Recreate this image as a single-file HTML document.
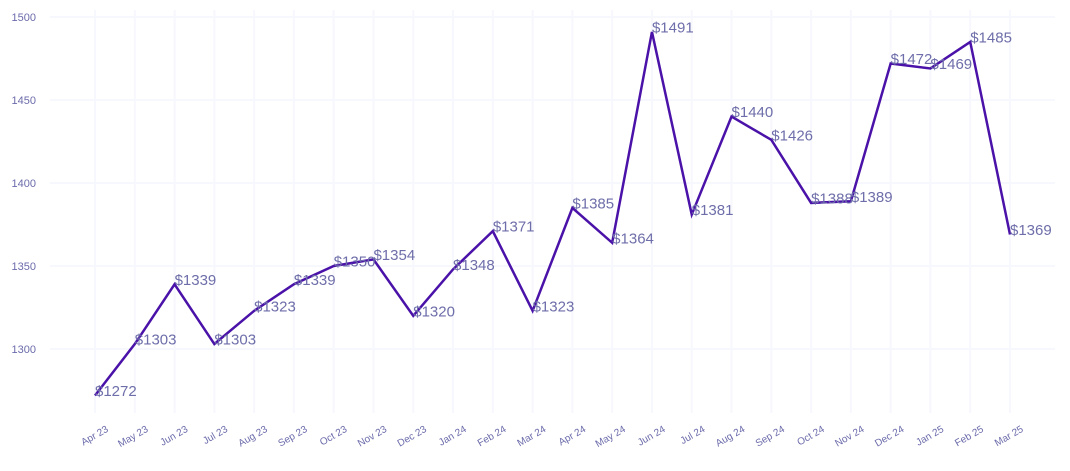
<!DOCTYPE html>
<html><head><meta charset="utf-8"><style>
body{margin:0;background:#fff;font-family:"Liberation Sans",sans-serif}
</style></head><body>
<svg id="chart" width="1070" height="466" xmlns="http://www.w3.org/2000/svg"></svg>
<script>
const categories=["Apr 23","May 23","Jun 23","Jul 23","Aug 23","Sep 23","Oct 23","Nov 23","Dec 23","Jan 24","Feb 24","Mar 24","Apr 24","May 24","Jun 24","Jul 24","Aug 24","Sep 24","Oct 24","Nov 24","Dec 24","Jan 25","Feb 25","Mar 25"];
const values=[1272,1303,1339,1303,1323,1339,1350,1354,1320,1348,1371,1323,1385,1364,1491,1381,1440,1426,1388,1389,1472,1469,1485,1369];
const yTicks=[1300,1350,1400,1450,1500];
const NS="http://www.w3.org/2000/svg";
const svg=document.getElementById('chart');
const x0=95,x1=1010,yBase=1300,yPx=349,pxPerUnit=83/50;
const xs=i=>x0+i*(x1-x0)/(categories.length-1);
const ys=v=>yPx-(v-yBase)*pxPerUnit;
function mk(t,a){const e=document.createElementNS(NS,t);for(const k in a)e.setAttribute(k,a[k]);svg.appendChild(e);return e;}
yTicks.forEach(t=>{
  const l=mk('line',{x1:50,x2:1055,y1:ys(t),y2:ys(t),stroke:'#f7f7fe','stroke-width':2});
  
  
  const tx=mk('text',{x:36,y:ys(t)+4,'text-anchor':'end','font-size':11,fill:'#6b6bab'});
  tx.textContent=t;
  
  
});
categories.forEach((c,i)=>{
  const l=mk('line',{x1:xs(i),x2:xs(i),y1:10,y2:413,stroke:'#f7f7fe','stroke-width':2});
  
  
  const ax=xs(i)+14, ay=431;
  const tx=mk('text',{x:ax,y:ay,'text-anchor':'end','font-size':10,fill:'#6b6bab',transform:`rotate(-30 ${ax} ${ay})`});
  tx.textContent=c;
  
  
});
const p=mk('polyline',{points:values.map((v,i)=>xs(i)+','+ys(v)).join(' '),fill:'none',stroke:'#4a12a8','stroke-width':2.5,'stroke-linejoin':'miter'});


values.forEach((v,i)=>{
  const tx=mk('text',{x:xs(i),y:ys(v)+0.5,'font-size':15,fill:'#6e6eaa'});
  tx.textContent='$'+v;
  
  
});
</script>
</body></html>
